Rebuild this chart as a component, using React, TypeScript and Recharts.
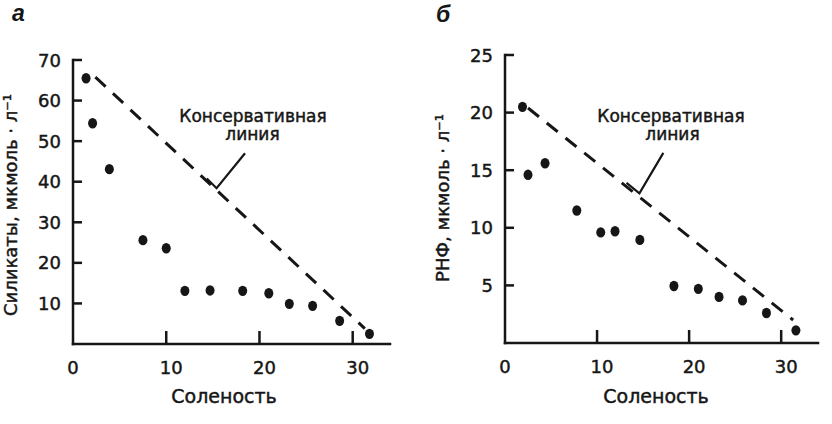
import React from 'react';
import { ScatterChart, Scatter, XAxis, YAxis } from 'recharts';

// ---------- data: panel а (silicates) ----------
const salinityA = [1.4, 2.1, 3.9, 7.5, 10.0, 12.0, 14.7, 18.2, 21.0, 23.2, 25.7, 28.6, 31.8];
const silicates = [65.5, 54.4, 43.1, 25.6, 23.6, 13.1, 13.2, 13.1, 12.5, 9.9, 9.4, 5.7, 2.5];
const conservSalinityA = [2.4, 31.3];
const conservSilicates = [65.8, 3.8];
const leaderSalinityA = [14.35, 15.4, 18.45];
const leaderSilicates = [40.8, 38.4, 47.0];

// ---------- data: panel б (phosphates) ----------
const salinityB = [1.9, 2.5, 4.35, 7.8, 10.4, 11.95, 14.65, 18.35, 21.0, 23.25, 25.8, 28.4, 31.6];
const phosphates = [20.5, 14.6, 15.6, 11.5, 9.6, 9.7, 8.95, 4.95, 4.7, 4.0, 3.7, 2.6, 1.1];
const conservSalinityB = [2.5, 31.3];
const conservPhosphates = [20.4, 2.0];
const leaderSalinityB = [13.2, 14.6, 17.2];
const leaderPhosphates = [13.9, 13.0, 16.5];

// ---------- ticks / labels ----------
const xTicks = [0, 10, 20, 30];
const yTicksA = [10, 20, 30, 40, 50, 60, 70];
const yTicksB = [5, 10, 15, 20, 25];
const xTitle = 'Соленость';
const yTitleA = 'Силикаты, мкмоль · л⁻¹';
const yTitleB = 'РНФ, мкмоль · л⁻¹';
const annotLine1 = 'Консервативная';
const annotLine2 = 'линия';

const INK = '#161616';
const FONT = "'DejaVu Sans', sans-serif";
const HEAVY = { stroke: INK, strokeWidth: 0.45 };

const zip = (xs: number[], ys: number[]) => xs.map((x, i) => ({ x, y: ys[i] }));

const Dot = (p: any) => <ellipse cx={p.cx} cy={p.cy} rx={4.5} ry={5.2} fill={INK} />;
const NoShape = () => <g />;

const XTick = (p: any) => {
  const v = p.payload.value;
  return (
    <g>
      {v !== 0 && <line x1={p.x} x2={p.x} y1={p.y} y2={p.y - 13} stroke={INK} strokeWidth={2.5} />}
      <text x={p.x + (v === 0 ? 0 : 5)} y={p.y + 29.5} textAnchor="middle" fontSize={18} fontFamily={FONT} fill={INK} {...HEAVY}>
        {v}
      </text>
    </g>
  );
};

const YTick = (p: any) => {
  const v = p.payload.value;
  return (
    <g>
      <line x1={p.x} x2={p.x + 9} y1={p.y} y2={p.y} stroke={INK} strokeWidth={2.5} />
      <text x={p.x - 12} y={p.y + 6.5} textAnchor="end" fontSize={18} fontFamily={FONT} fill={INK} {...HEAVY}>
        {v}
      </text>
    </g>
  );
};

const axisLine = { stroke: INK, strokeWidth: 2.5, strokeLinecap: 'square' as const };

type PanelProps = {
  points: { x: number; y: number }[];
  conserv: { x: number; y: number }[];
  leader: { x: number; y: number }[];
  yMax: number;
  yTicks: number[];
  yWidth: number;
  margin: { top: number; right: number; bottom: number; left: number };
};

const Panel = ({ points, conserv, leader, yMax, yTicks, yWidth, margin }: PanelProps) => (
  <ScatterChart width={416} height={424} margin={margin}>
    <XAxis
      type="number"
      dataKey="x"
      domain={[0, 34]}
      ticks={xTicks}
      interval={0}
      height={60}
      tickSize={0}
      tickMargin={0}
      tickLine={false}
      axisLine={axisLine}
      tick={<XTick />}
    />
    <YAxis
      type="number"
      dataKey="y"
      domain={[0, yMax]}
      ticks={yTicks}
      interval={0}
      width={yWidth}
      tickSize={0}
      tickMargin={0}
      tickLine={false}
      axisLine={axisLine}
      tick={<YTick />}
    />
    <Scatter
      data={conserv}
      line={{ stroke: INK, strokeWidth: 3, strokeDasharray: '14 10' }}
      shape={<NoShape />}
      isAnimationActive={false}
    />
    <Scatter
      data={leader}
      line={{ stroke: INK, strokeWidth: 2.2 }}
      shape={<NoShape />}
      isAnimationActive={false}
    />
    <Scatter data={points} shape={<Dot />} isAnimationActive={false} />
  </ScatterChart>
);

export default function App() {
  const txt = { fontFamily: FONT, fill: INK, ...HEAVY };
  return (
    <div style={{ position: 'absolute', left: 0, top: 0, width: 832, height: 424, background: '#fff' }}>
      <div style={{ position: 'absolute', left: 0, top: 0 }}>
        <Panel
          points={zip(salinityA, silicates)}
          conserv={zip(conservSalinityA, conservSilicates)}
          leader={zip(leaderSalinityA, leaderSilicates)}
          yMax={70}
          yTicks={yTicksA}
          yWidth={73}
          margin={{ top: 60, right: 26, bottom: 20, left: 0 }}
        />
      </div>
      <div style={{ position: 'absolute', left: 416, top: 0 }}>
        <Panel
          points={zip(salinityB, phosphates)}
          conserv={zip(conservSalinityB, conservPhosphates)}
          leader={zip(leaderSalinityB, leaderPhosphates)}
          yMax={25}
          yTicks={yTicksB}
          yWidth={89}
          margin={{ top: 55, right: 14, bottom: 21, left: 0 }}
        />
      </div>
      <svg
        width={832}
        height={424}
        style={{ position: 'absolute', left: 0, top: 0, pointerEvents: 'none' }}
      >
        <text x={12} y={21} fontSize={23} fontStyle="italic" fontWeight="bold" fontFamily="'Liberation Sans', sans-serif" fill={INK}>а</text>
        <text x={436} y={22} fontSize={23} fontStyle="italic" fontWeight="bold" fontFamily="'Liberation Sans', sans-serif" fill={INK}>б</text>

        <text {...txt} fontSize={18} textAnchor="middle" transform="translate(17,205) rotate(-90)">{yTitleA}</text>
        <text {...txt} fontSize={18} textAnchor="middle" transform="translate(449,198) rotate(-90)">{yTitleB}</text>

        <text {...txt} fontSize={19} textAnchor="middle" x={224} y={403}>{xTitle}</text>
        <text {...txt} fontSize={19} textAnchor="middle" x={656} y={403}>{xTitle}</text>

        <text {...txt} fontSize={17} textAnchor="middle" x={253} y={121.5}>{annotLine1}</text>
        <text {...txt} fontSize={17} textAnchor="middle" x={252.5} y={140}>{annotLine2}</text>
        <text {...txt} fontSize={17} textAnchor="middle" x={671} y={121.5}>{annotLine1}</text>
        <text {...txt} fontSize={17} textAnchor="middle" x={672.5} y={140}>{annotLine2}</text>
      </svg>
    </div>
  );
}
